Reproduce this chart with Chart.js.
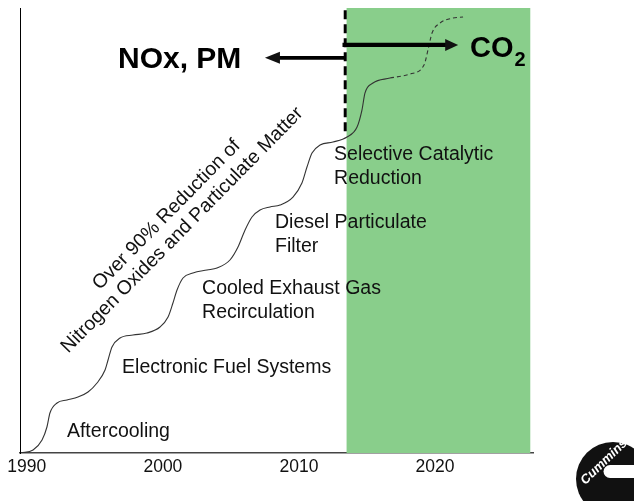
<!DOCTYPE html>
<html><head><meta charset="utf-8">
<script src="https://cdn.jsdelivr.net/npm/chart.js@4"></script>
<style>html,body{margin:0;padding:0;background:#fff}#wrap{width:634px;height:501px;position:relative}</style>
</head><body><div id="wrap"><canvas id="c" width="634" height="501"></canvas></div>
<script>
// ---- data ----
const tickYears = [1990, 2000, 2010, 2020];
const tickLabels = ['1990', '2000', '2010', '2020'];

// emission-technology staircase (solid, achieved)
const curveYears = [1989.57,1990.46,1991.12,1991.48,1991.70,1992.22,1992.95,1993.76,1994.50,1995.16,1995.75,1995.97,1996.26,1996.85,1997.80,1998.83,1999.79,2000.38,2000.74,2001.04,2001.48,2002.21,2003.24,2003.98,2004.93,2005.52,2006.04,2006.55,2007.14,2007.87,2008.61,2009.56,2010.22,2010.59,2010.96,2011.55,2012.50,2013.53,2014.27,2014.63,2014.85,2015.44,2016.69];
const curveLevels = [0.0,0.67,2.92,5.84,8.99,11.24,11.91,12.58,13.71,15.73,18.65,20.90,23.82,25.84,26.51,26.96,28.31,30.56,33.71,36.63,39.32,40.45,41.12,41.57,43.37,46.29,50.11,53.03,54.60,55.28,55.73,57.52,60.67,64.26,67.41,69.21,69.88,71.01,73.25,77.07,80.89,83.14,84.26];
// future part (dashed)
const futureYears = [2016.69,2018.16,2019.19,2019.48,2019.78,2020.37,2021.32,2022.06];
const futureLevels = [84.26,85.16,87.18,90.55,94.37,96.62,97.74,97.97];

// CO2 era band and the NOx/PM | CO2 boundary
const bandYears = [2013.5, 2027.0];
const boundaryYears = [2013.4, 2013.4];
const boundaryLevels = [99.5, 71.5];

// technology labels (lines of text)
const techLabels = [
  ['Aftercooling'],
  ['Electronic Fuel Systems'],
  ['Cooled Exhaust Gas', 'Recirculation'],
  ['Diesel Particulate', 'Filter'],
  ['Selective Catalytic', 'Reduction']
];
const diagonalText = ['Over 90% Reduction of', 'Nitrogen Oxides and Particulate Matter'];

// ---- layout / styling (not data) ----
const techAnchors = [[1992.95, 4.72],[1997.0, 19.1],[2002.88, 36.85],[2008.24, 51.68],[2012.58, 66.96]];
const FONT = '"Liberation Sans", Arial, sans-serif';

function toXY(xs, ys){ return xs.map((x,i)=>({x:x, y:ys[i]})); }

function arrow(ctx, x1, y, x2, lw, hl, hw){
  const dir = Math.sign(x2 - x1);
  ctx.lineWidth = lw;
  ctx.beginPath(); ctx.moveTo(x1, y); ctx.lineTo(x2 - dir*hl*0.9, y); ctx.stroke();
  ctx.beginPath(); ctx.moveTo(x2, y); ctx.lineTo(x2 - dir*hl, y - hw); ctx.lineTo(x2 - dir*hl, y + hw); ctx.closePath(); ctx.fill();
}

const decor = {
  id: 'decor',
  beforeDatasetsDraw(chart){
    const {ctx, chartArea:a, scales:{x}} = chart;
    ctx.save();
    ctx.fillStyle = '#89CE8B';
    const x0 = x.getPixelForValue(bandYears[0]), x1 = x.getPixelForValue(bandYears[1]);
    ctx.fillRect(x0, a.top, x1 - x0, a.bottom - a.top);
    ctx.restore();
  },
  afterDatasetsDraw(chart){
    const {ctx, scales:{x, y}} = chart;
    ctx.save();
    ctx.fillStyle = '#111'; ctx.strokeStyle = '#000';
    // arrows
    arrow(ctx, x.getPixelForValue(2013.4), y.getPixelForValue(88.8), x.getPixelForValue(2007.5), 3.6, 15, 6);
    arrow(ctx, x.getPixelForValue(2013.2), y.getPixelForValue(91.7), x.getPixelForValue(2021.7), 4.2, 13, 6);
    // NOx, PM
    ctx.fillStyle = '#000';
    ctx.textBaseline = 'alphabetic'; ctx.textAlign = 'left';
    ctx.font = 'bold 30px ' + FONT;
    ctx.fillText('NOx, PM', x.getPixelForValue(1996.7), y.getPixelForValue(86.5));
    // CO2
    const cx = x.getPixelForValue(2022.57);
    ctx.font = 'bold 29px ' + FONT;
    ctx.fillText('CO', cx, y.getPixelForValue(88.98));
    const w = ctx.measureText('CO').width;
    ctx.font = 'bold 20px ' + FONT;
    ctx.fillText('2', cx + w + 1, y.getPixelForValue(87.0));
    // technology labels
    ctx.font = '19.5px ' + FONT;
    ctx.fillStyle = '#111';
    ctx.textBaseline = 'middle';
    techLabels.forEach((lines, i) => {
      const px = x.getPixelForValue(techAnchors[i][0]);
      const py = y.getPixelForValue(techAnchors[i][1]);
      lines.forEach((t, j) => ctx.fillText(t, px, py + j*24));
    });
    // diagonal text
    ctx.save();
    const dx = x.getPixelForValue(2000.85), dy = y.getPixelForValue(51.8);
    ctx.translate(dx, dy);
    ctx.rotate(-45.5 * Math.PI / 180);
    ctx.textAlign = 'center';
    ctx.font = '19.5px ' + FONT;
    ctx.fillText(diagonalText[0], 0, -11);
    ctx.fillText(diagonalText[1], 0, 11);
    ctx.restore();
    ctx.restore();
  },
  afterDraw(chart){
    // Cummins logo
    const ctx = chart.ctx;
    ctx.save();
    ctx.fillStyle = '#111';
    ctx.beginPath(); ctx.arc(613, 479, 37, 0, Math.PI*2); ctx.fill();
    ctx.fillStyle = '#fff';
    ctx.beginPath();
    ctx.moveTo(610, 465); ctx.lineTo(640, 465); ctx.lineTo(640, 478); ctx.lineTo(610, 478);
    ctx.arc(610, 471.5, 6.5, Math.PI/2, Math.PI*1.5);
    ctx.closePath(); ctx.fill();
    ctx.translate(604, 462);
    ctx.rotate(-44 * Math.PI / 180);
    ctx.font = 'italic bold 13px ' + FONT;
    ctx.textAlign = 'center'; ctx.textBaseline = 'middle';
    ctx.fillText('Cummins', 0, 0);
    ctx.restore();
  }
};

new Chart(document.getElementById('c'), {
  type: 'line',
  data: {
    datasets: [
      { data: toXY(curveYears, curveLevels), borderColor: '#333', borderWidth: 1.1, pointRadius: 0, cubicInterpolationMode: 'monotone', fill: false },
      { data: toXY(futureYears, futureLevels), borderColor: '#333', borderWidth: 1.1, borderDash: [4, 3], pointRadius: 0, cubicInterpolationMode: 'monotone', fill: false },
      { data: toXY(boundaryYears, boundaryLevels), borderColor: '#000', borderWidth: 3, borderDash: [9, 5], pointRadius: 0, fill: false }
    ]
  },
  options: {
    responsive: false, animation: false,
    layout: { padding: { left: 20, top: 8, right: 101, bottom: 0 } },
    plugins: { legend: { display: false }, tooltip: { enabled: false }, title: { display: false } },
    scales: {
      x: {
        type: 'linear', min: 1989.5, max: 2027.2,
        grid: { display: false, drawTicks: false },
        border: { display: true, color: '#444', width: 1.5 },
        afterBuildTicks: s => { s.ticks = tickYears.map(v => ({ value: v })); },
        afterFit: s => { s.height = 48; },
        ticks: { autoSkip: false, maxRotation: 0, padding: 4, color: '#111',
          font: { family: FONT, size: 17.5 },
          callback: (v) => tickLabels[tickYears.indexOf(v)] ?? '' }
      },
      y: {
        type: 'linear', min: 0, max: 100,
        grid: { display: false, drawTicks: false },
        border: { display: true, color: '#000', width: 1 },
        ticks: { display: false },
        afterFit: s => { s.width = 0; }
      }
    }
  },
  plugins: [decor]
});
</script>
</body></html>
